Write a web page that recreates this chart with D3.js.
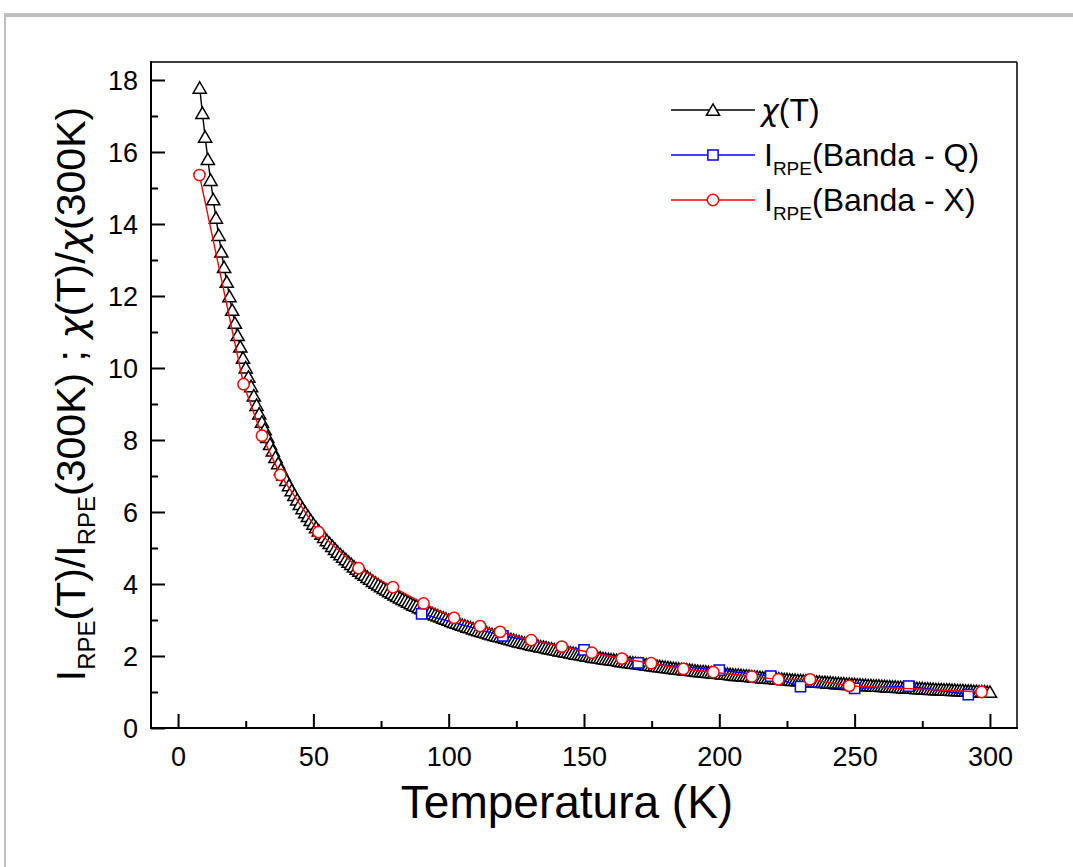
<!DOCTYPE html>
<html>
<head>
<meta charset="utf-8">
<script src="https://d3js.org/d3.v7.min.js"></script>
<style>
  body { margin: 0; background: #fff; }
  svg { display: block; font-family: "Liberation Sans", Arial, sans-serif; }
  .chi { font-family: "DejaVu Sans", sans-serif; font-style: italic; }
</style>
</head>
<body>
<svg id="chart" width="1073" height="867"></svg>
<script>
// chi(T)/chi(300K), one point per kelvin from 8 K to 300 K
const chiStartT = 8;
const chiValues = [
  17.78, 17.08, 16.42, 15.80, 15.22, 14.68, 14.17, 13.69, 13.23, 12.80,
  12.39, 11.99, 11.61, 11.25, 10.91, 10.59, 10.28, 10.01, 9.75, 9.49,
  9.23, 8.97, 8.73, 8.50, 8.29, 8.08, 7.88, 7.70, 7.52, 7.35,
  7.18, 7.03, 6.88, 6.74, 6.60, 6.47, 6.34, 6.22, 6.10, 5.99,
  5.88, 5.77, 5.67, 5.57, 5.48, 5.39, 5.30, 5.21, 5.13, 5.05,
  4.97, 4.89, 4.82, 4.75, 4.68, 4.61, 4.55, 4.48, 4.42, 4.36,
  4.30, 4.25, 4.19, 4.14, 4.08, 4.03, 3.98, 3.93, 3.88, 3.84,
  3.79, 3.75, 3.70, 3.66, 3.62, 3.58, 3.54, 3.50, 3.46, 3.42,
  3.39, 3.35, 3.32, 3.28, 3.25, 3.21, 3.18, 3.15, 3.12, 3.09,
  3.06, 3.03, 3.00, 2.97, 2.94, 2.92, 2.89, 2.86, 2.84, 2.81,
  2.79, 2.76, 2.74, 2.71, 2.69, 2.67, 2.65, 2.62, 2.60, 2.58,
  2.56, 2.54, 2.52, 2.50, 2.48, 2.46, 2.44, 2.42, 2.40, 2.38,
  2.36, 2.35, 2.33, 2.31, 2.29, 2.28, 2.26, 2.25, 2.23, 2.21,
  2.20, 2.18, 2.17, 2.15, 2.14, 2.12, 2.11, 2.09, 2.08, 2.06,
  2.05, 2.04, 2.02, 2.01, 2.00, 1.98, 1.97, 1.96, 1.95, 1.93,
  1.92, 1.91, 1.90, 1.89, 1.88, 1.86, 1.85, 1.84, 1.83, 1.82,
  1.81, 1.80, 1.79, 1.78, 1.77, 1.76, 1.75, 1.74, 1.73, 1.72,
  1.71, 1.70, 1.69, 1.68, 1.67, 1.66, 1.65, 1.64, 1.63, 1.62,
  1.62, 1.61, 1.60, 1.59, 1.58, 1.57, 1.57, 1.56, 1.55, 1.54,
  1.53, 1.53, 1.52, 1.51, 1.50, 1.50, 1.49, 1.48, 1.47, 1.47,
  1.46, 1.45, 1.45, 1.44, 1.43, 1.42, 1.42, 1.41, 1.40, 1.40,
  1.39, 1.38, 1.38, 1.37, 1.37, 1.36, 1.35, 1.35, 1.34, 1.33,
  1.33, 1.32, 1.32, 1.31, 1.31, 1.30, 1.29, 1.29, 1.28, 1.28,
  1.27, 1.27, 1.26, 1.26, 1.25, 1.24, 1.24, 1.23, 1.23, 1.22,
  1.22, 1.21, 1.21, 1.20, 1.20, 1.19, 1.19, 1.18, 1.18, 1.17,
  1.17, 1.17, 1.16, 1.16, 1.15, 1.15, 1.14, 1.14, 1.13, 1.13,
  1.12, 1.12, 1.12, 1.11, 1.11, 1.10, 1.10, 1.10, 1.09, 1.09,
  1.08, 1.08, 1.07, 1.07, 1.07, 1.06, 1.06, 1.06, 1.05, 1.05,
  1.04, 1.04, 1.04, 1.03, 1.03, 1.03, 1.02, 1.02, 1.01, 1.01,
  1.01, 1.00, 1.00
];

// I_RPE, Q band
const bandQTemps = [90, 120, 150, 170, 200, 219, 230, 250, 270, 292];
const bandQValues = [3.17, 2.56, 2.17, 1.81, 1.61, 1.44, 1.15, 1.10, 1.16, 0.93];

// I_RPE, X band
const bandXTemps = [7.9, 24.2, 31.0, 37.8, 51.9, 66.7, 79.4, 90.7, 102, 111.6, 119, 130.5,
  141.8, 152.9, 164, 174.8, 186.7, 197.8, 212, 221.8, 233.5, 248, 296.9];
const bandXValues = [15.36, 9.55, 8.12, 7.03, 5.44, 4.44, 3.91, 3.46, 3.06, 2.83, 2.67, 2.44,
  2.26, 2.09, 1.93, 1.80, 1.64, 1.55, 1.43, 1.35, 1.35, 1.17, 1.00];

const xMajorTicks = [0, 50, 100, 150, 200, 250, 300];
const xMinorTicks = [25, 75, 125, 175, 225, 275];
const yMajorTicks = [0, 2, 4, 6, 8, 10, 12, 14, 16, 18];
const yMinorTicks = [1, 3, 5, 7, 9, 11, 13, 15, 17];

const chiData = chiValues.map((v, i) => ({ t: chiStartT + i, v: v }));
const qData = bandQTemps.map((t, i) => ({ t: t, v: bandQValues[i] }));
const xData = bandXTemps.map((t, i) => ({ t: t, v: bandXValues[i] }));

const svg = d3.select('#chart');

// grey page frame (top and left edges only)
svg.append('rect').attr('x', 4).attr('y', 13).attr('width', 1069).attr('height', 4).attr('fill', '#bfbfbf');
svg.append('rect').attr('x', 4).attr('y', 13).attr('width', 2).attr('height', 854).attr('fill', '#bfbfbf');

const plot = { left: 151, right: 1017, top: 62, bottom: 728 };

const x = d3.scaleLinear().domain([-10, 310]).range([plot.left, plot.right]);
const y = d3.scaleLinear().domain([0, 18.5]).range([plot.bottom, plot.top]);

// inward ticks, major long and minor short
const xAxis = d3.axisBottom(x).tickValues(xMajorTicks).tickSize(-14).tickPadding(0).tickFormat(d3.format('d'));
const xAxisMinor = d3.axisBottom(x).tickValues(xMinorTicks).tickSize(-7).tickFormat('');
const yAxis = d3.axisLeft(y).tickValues(yMajorTicks).tickSize(-14).tickFormat(d3.format('d'));
const yAxisMinor = d3.axisLeft(y).tickValues(yMinorTicks).tickSize(-7).tickFormat('');

function styleAxis(g) {
  g.select('.domain').remove();
  g.selectAll('.tick line').attr('stroke', '#000').attr('stroke-width', 2);
  g.selectAll('.tick text').attr('fill', '#000').attr('font-size', 27)
    .attr('font-family', '"Liberation Sans", Arial, sans-serif');
}

svg.append('g').attr('transform', `translate(0,${plot.bottom})`).call(xAxis).call(styleAxis)
  .selectAll('.tick text').attr('y', 29).attr('dy', '0.32em');
svg.append('g').attr('transform', `translate(0,${plot.bottom})`).call(xAxisMinor).call(styleAxis);
svg.append('g').attr('transform', `translate(${plot.left},0)`).call(yAxis).call(styleAxis)
  .selectAll('.tick text').attr('x', -13).attr('dy', '0.36em');
svg.append('g').attr('transform', `translate(${plot.left},0)`).call(yAxisMinor).call(styleAxis);

// plot frame
svg.append('line').attr('x1', plot.left).attr('x2', plot.right).attr('y1', plot.top).attr('y2', plot.top)
  .attr('stroke', '#000').attr('stroke-width', 1.5);
svg.append('line').attr('x1', plot.right).attr('x2', plot.right).attr('y1', plot.top).attr('y2', plot.bottom)
  .attr('stroke', '#000').attr('stroke-width', 1.5);
svg.append('line').attr('x1', plot.left).attr('x2', plot.right + 1).attr('y1', plot.bottom).attr('y2', plot.bottom)
  .attr('stroke', '#000').attr('stroke-width', 2);
svg.append('line').attr('x1', plot.left).attr('x2', plot.left).attr('y1', plot.top - 1).attr('y2', plot.bottom + 1)
  .attr('stroke', '#000').attr('stroke-width', 2);

const line = d3.line().x(d => x(d.t)).y(d => y(d.v));

const triangle = d3.symbol().type(d3.symbolTriangle).size(75);
const square = d3.symbol().type(d3.symbolSquare).size(105);
const circle = d3.symbol().type(d3.symbolCircle).size(100);

function drawSeries(data, color, shape, dyShift) {
  const g = svg.append('g');
  g.append('path').datum(data).attr('d', line)
    .attr('fill', 'none').attr('stroke', color).attr('stroke-width', 1.4);
  g.selectAll('path.pt').data(data).enter().append('path')
    .attr('class', 'pt')
    .attr('d', shape)
    .attr('transform', d => `translate(${x(d.t)},${y(d.v) + dyShift})`)
    .attr('fill', '#fff').attr('stroke', color).attr('stroke-width', 1.5);
}

drawSeries(chiData, '#000', triangle, 1.5);
drawSeries(qData, '#0000ff', square, 0);
drawSeries(xData, '#ff0000', circle, 0);

// legend
const legendRows = [
  { color: '#000', shape: triangle, dy: 1.5 },
  { color: '#0000ff', shape: square, dy: 0 },
  { color: '#ff0000', shape: circle, dy: 0 }
];
const legendY = [110, 155, 200];
const legend = svg.append('g');
legendRows.forEach((r, i) => {
  const ly = legendY[i];
  legend.append('line').attr('x1', 671).attr('x2', 755).attr('y1', ly).attr('y2', ly)
    .attr('stroke', r.color).attr('stroke-width', 1.4);
  legend.append('path').attr('d', r.shape).attr('transform', `translate(713,${ly + r.dy})`)
    .attr('fill', '#fff').attr('stroke', r.color).attr('stroke-width', 1.5);
});

const legendText = legend.append('g').attr('font-size', 32).attr('fill', '#000');
const chiLabel = legendText.append('text').attr('x', 761).attr('y', legendY[0] + 11);
chiLabel.append('tspan').attr('class', 'chi').attr('font-size', 30).text('χ');
chiLabel.append('tspan').text('(T)');
[1, 2].forEach(i => {
  const t = legendText.append('text').attr('x', 764).attr('y', legendY[i] + 11);
  t.append('tspan').text('I');
  t.append('tspan').attr('font-size', 19).attr('dy', 9).text('RPE');
  t.append('tspan').attr('dy', -9).text(i === 1 ? '(Banda - Q)' : '(Banda - X)');
});

// axis titles
svg.append('text').attr('x', 567).attr('y', 818).attr('text-anchor', 'middle')
  .attr('font-size', 46).attr('fill', '#000').text('Temperatura (K)');

const yTitle = svg.append('text').attr('text-anchor', 'middle')
  .attr('transform', 'translate(85,394) rotate(-90)')
  .attr('font-size', 41).attr('fill', '#000');
yTitle.append('tspan').text('I');
yTitle.append('tspan').attr('font-size', 24).attr('dy', 10).text('RPE');
yTitle.append('tspan').attr('dy', -10).text('(T)/I');
yTitle.append('tspan').attr('font-size', 24).attr('dy', 10).text('RPE');
yTitle.append('tspan').attr('dy', -10).text('(300K) ; ');
yTitle.append('tspan').attr('class', 'chi').attr('font-size', 38).text('χ');
yTitle.append('tspan').text('(T)/');
yTitle.append('tspan').attr('class', 'chi').attr('font-size', 38).text('χ');
yTitle.append('tspan').text('(300K)');
</script>
</body>
</html>
